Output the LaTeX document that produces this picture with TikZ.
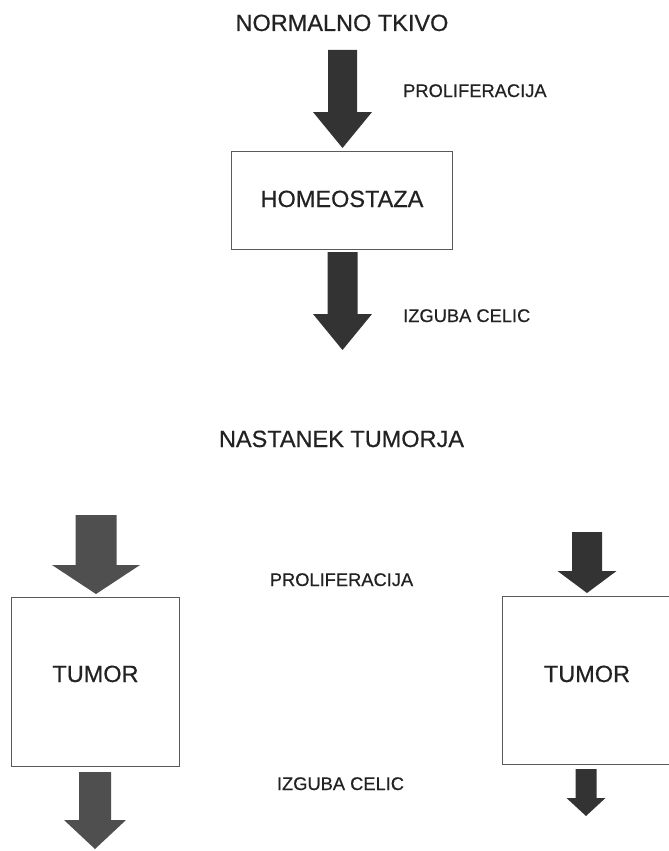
\documentclass[tikz,border=0pt]{standalone}
\usepackage{fontspec}
\setmainfont{Liberation Sans}
\newfontfamily\scanfont{Liberation Sans}[UprightFeatures={FakeBold=0.5}]
\usepackage{tikz}
\usetikzlibrary{calc, positioning}

\definecolor{ink}{HTML}{222222}
\definecolor{arrdark}{HTML}{333333}
\definecolor{arrgray}{HTML}{4F4F4F}
\definecolor{boxline}{HTML}{5A5A5A}

% block arrow: [colour] {start} {tip} {half shaft} {half head} {head length}
\newcommand{\fatarrow}[6][arrdark]{%
  \fill[#1] ($(#2)+(-#4,0)$) -- ($(#2)+(#4,0)$) -- ($(#3)+(#4,-#6)$)
    -- ($(#3)+(#5,-#6)$) -- (#3) -- ($(#3)+(-#5,-#6)$) -- ($(#3)+(-#4,-#6)$) -- cycle;}

\begin{document}
\begin{tikzpicture}[x=1pt, y=-1pt,
    big/.style={font=\scanfont\fontsize{23.5}{28}\selectfont, text=ink, inner sep=0pt, anchor=base},
    small/.style={font=\scanfont\fontsize{18.3}{22}\selectfont, text=ink, inner sep=0pt, anchor=base},
    box/.style={draw=boxline, line width=0.9pt, inner sep=0pt}]
  \useasboundingbox[fill=white] (0,0) rectangle (669,851);

  % normal tissue
  \node[big] (title) at (342,31) {NORMALNO TKIVO};
  \node[box, minimum width=221pt, minimum height=98pt] (hom) at (341.5,200) {};
  \node[big] (homtxt) at (342,207) {HOMEOSTAZA};
  \node[small, anchor=base west] (prol) at (403,97) {PROLIFERACIJA};
  \node[small, anchor=base west] (izg) at (403,322) {IZGUBA CELIC};

  \coordinate (a1s) at (342.5,50);  \coordinate (a1e) at (342.5,148);
  \coordinate (a2s) at (342.5,252); \coordinate (a2e) at (342.5,350);
  \fatarrow{a1s}{a1e}{14.5}{29.5}{36}
  \fatarrow{a2s}{a2e}{15}{29.5}{36}

  % tumour
  \node[big] (title2) at (341.5,447) {NASTANEK TUMORJA};
  \node[small] (prol2) at (341.5,586) {PROLIFERACIJA};
  \node[small] (izg2) at (340.5,790) {IZGUBA CELIC};

  \node[box, minimum width=168pt, minimum height=169pt] (tumL) at (95,681.5) {};
  \node[big] (tumLtxt) at (95.5,682) {TUMOR};
  \node[box, minimum width=170pt, minimum height=168pt] (tumR) at (587,680) {};
  \node[big] (tumRtxt) at (587,682) {TUMOR};

  \coordinate (a3s) at (96,515);  \coordinate (a3e) at (96,594);
  \coordinate (a4s) at (95,772);  \coordinate (a4e) at (95,849);
  \coordinate (a5s) at (587,532); \coordinate (a5e) at (587,593);
  \coordinate (a6s) at (586,769); \coordinate (a6e) at (586,816);
  \fatarrow[arrgray]{a3s}{a3e}{20.5}{44}{29}
  \fatarrow[arrgray]{a4s}{a4e}{16}{31}{29}
  \fatarrow{a5s}{a5e}{15}{29.5}{22}
  \fatarrow{a6s}{a6e}{10.5}{19.5}{18}
\end{tikzpicture}
\end{document}
